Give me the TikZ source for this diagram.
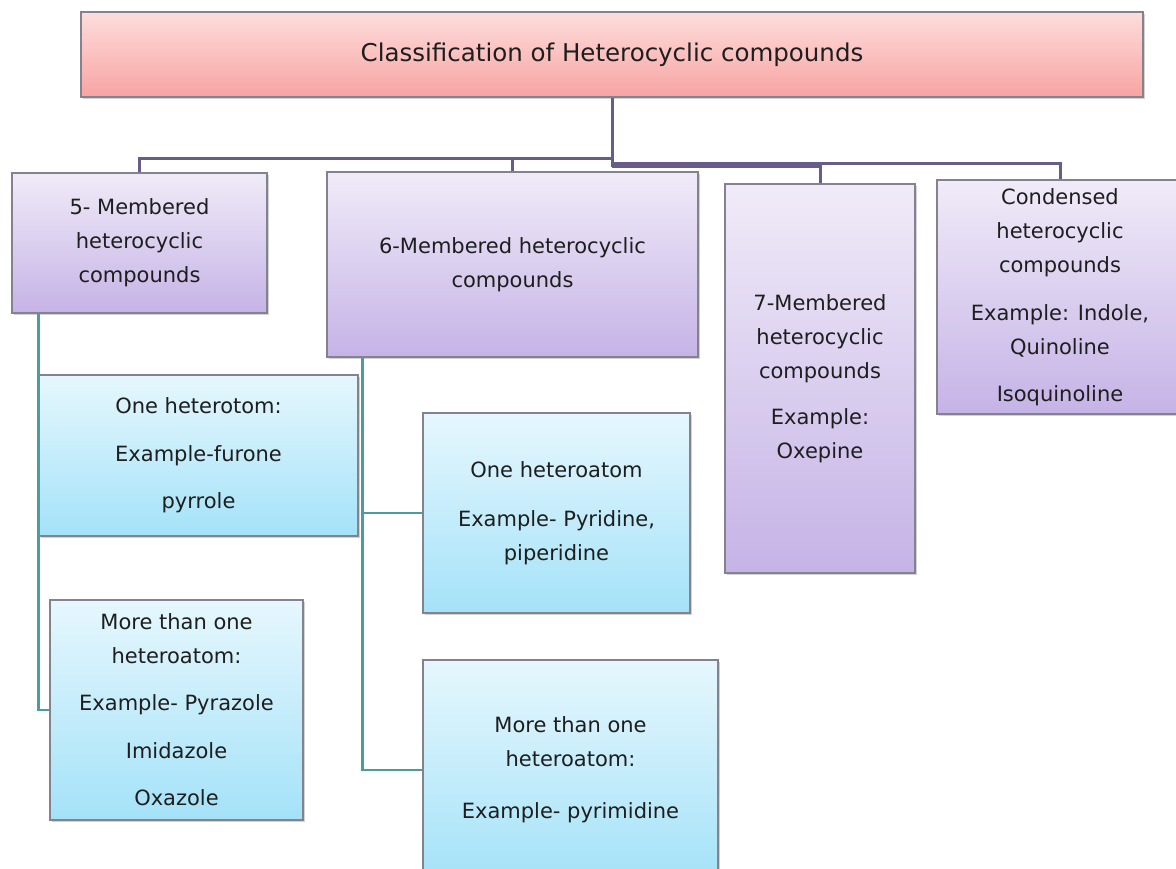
\documentclass[tikz,border=0pt]{standalone}
\usepackage{fontspec}
\setmainfont{DejaVu Sans}
\usepackage{tikz}
\usetikzlibrary{calc,shadows}
\definecolor{Rose}{HTML}{FDDDDC}
\definecolor{RoseDeep}{HTML}{F7A4A2}
\definecolor{Lilac}{HTML}{F0EBF8}
\definecolor{LilacDeep}{HTML}{C5B3E6}
\definecolor{Sky}{HTML}{E6F7FD}
\definecolor{SkyDeep}{HTML}{A4E2F8}
\definecolor{Plum}{HTML}{675C8C}
\definecolor{Teal}{HTML}{4B9CA0}
\definecolor{Edge}{HTML}{858290}
\definecolor{Ink}{HTML}{1E1E1E}

\tikzset{
  box/.style={draw=Edge,line width=1.2pt,inner sep=0pt,text=Ink,align=center,
    font=\fontsize{21}{34}\selectfont,
    drop shadow={shadow xshift=1.5pt,shadow yshift=-2pt,opacity=.35}},
  titlebox/.style={box,top color=Rose,bottom color=RoseDeep,
    font=\fontsize{24.5}{30}\selectfont},
  groupbox/.style={box,top color=Lilac,bottom color=LilacDeep},
  examplebox/.style={box,top color=Sky,bottom color=SkyDeep},
  trunk/.style={Plum,line width=3pt},
  branch/.style={Teal,line width=2.6pt},
}

\begin{document}
\begin{tikzpicture}[x=1pt,y=-1pt]
    \useasboundingbox (0,0) rectangle (1176,869);
    \fill[white] (0,0) rectangle (1176,869);
    \clip (0,0) rectangle (1176,869);

    % top level
    \node[titlebox,minimum width=1062pt,minimum height=85pt] (title) at (612,54.5)
      {Classification of Heterocyclic compounds};

    % ring sizes
    \node[groupbox,minimum width=255pt,minimum height=140pt] (b5) at (139.5,243)
      {5- Membered\\heterocyclic\\compounds};
    \node[groupbox,minimum width=371pt,minimum height=185pt] (b6) at (512.5,264.5)
      {6-Membered heterocyclic\\compounds};
    \node[groupbox,minimum width=190pt,minimum height=389pt] (b7) at (820,378.5)
      {7-Membered\\heterocyclic\\compounds\\[12pt]Example:\\Oxepine};
    \node[groupbox,minimum width=246pt,minimum height=234pt] (bc) at (1060,297)
      {Condensed\\heterocyclic\\compounds\\[14pt]Example: Indole,\\Quinoline\\[13pt]Isoquinoline};

    % examples
    \node[examplebox,minimum width=319pt,minimum height=161pt] (o5) at (198.5,455.5)
      {One heterotom:\\[14pt]Example-furone\\[13pt]pyrrole};
    \node[examplebox,minimum width=253pt,minimum height=220pt] (m5) at (176.5,710)
      {More than one\\heteroatom:\\[13pt]Example- Pyrazole\\[14pt]Imidazole\\[13pt]Oxazole};
    \node[examplebox,minimum width=267pt,minimum height=200pt] (o6) at (556.5,513)
      {One heteroatom\\[15pt]Example- Pyridine,\\piperidine};
    \node[examplebox,minimum width=295pt,minimum height=220pt] (m6) at (570.5,770)
      {More than one\\heteroatom:\\[18pt]Example- pyrimidine};

    % connectors
    \coordinate (hl) at ($(title.south)+(0,61)$);
    \coordinate (hr) at ($(title.south)+(0,69)$);
    \draw[trunk] (title.south) -- (hr);
    \draw[trunk] (hl) -| (b5.north);
    \draw[trunk] (hl) -| (b6.north);
    \draw[trunk] (hr) -| (b7.north);
    \draw[trunk] ($(hr)+(0,-3)$) -| (bc.north);

    \draw[branch] (b5.south -| o5.west) |- (m5.west);
    \coordinate (t6) at ($(b6.south west)+(36,0)$);
    \draw[branch] (t6) |- (o6.west);
    \draw[branch] (t6) |- (m6.west);
  \end{tikzpicture}
\end{document}
